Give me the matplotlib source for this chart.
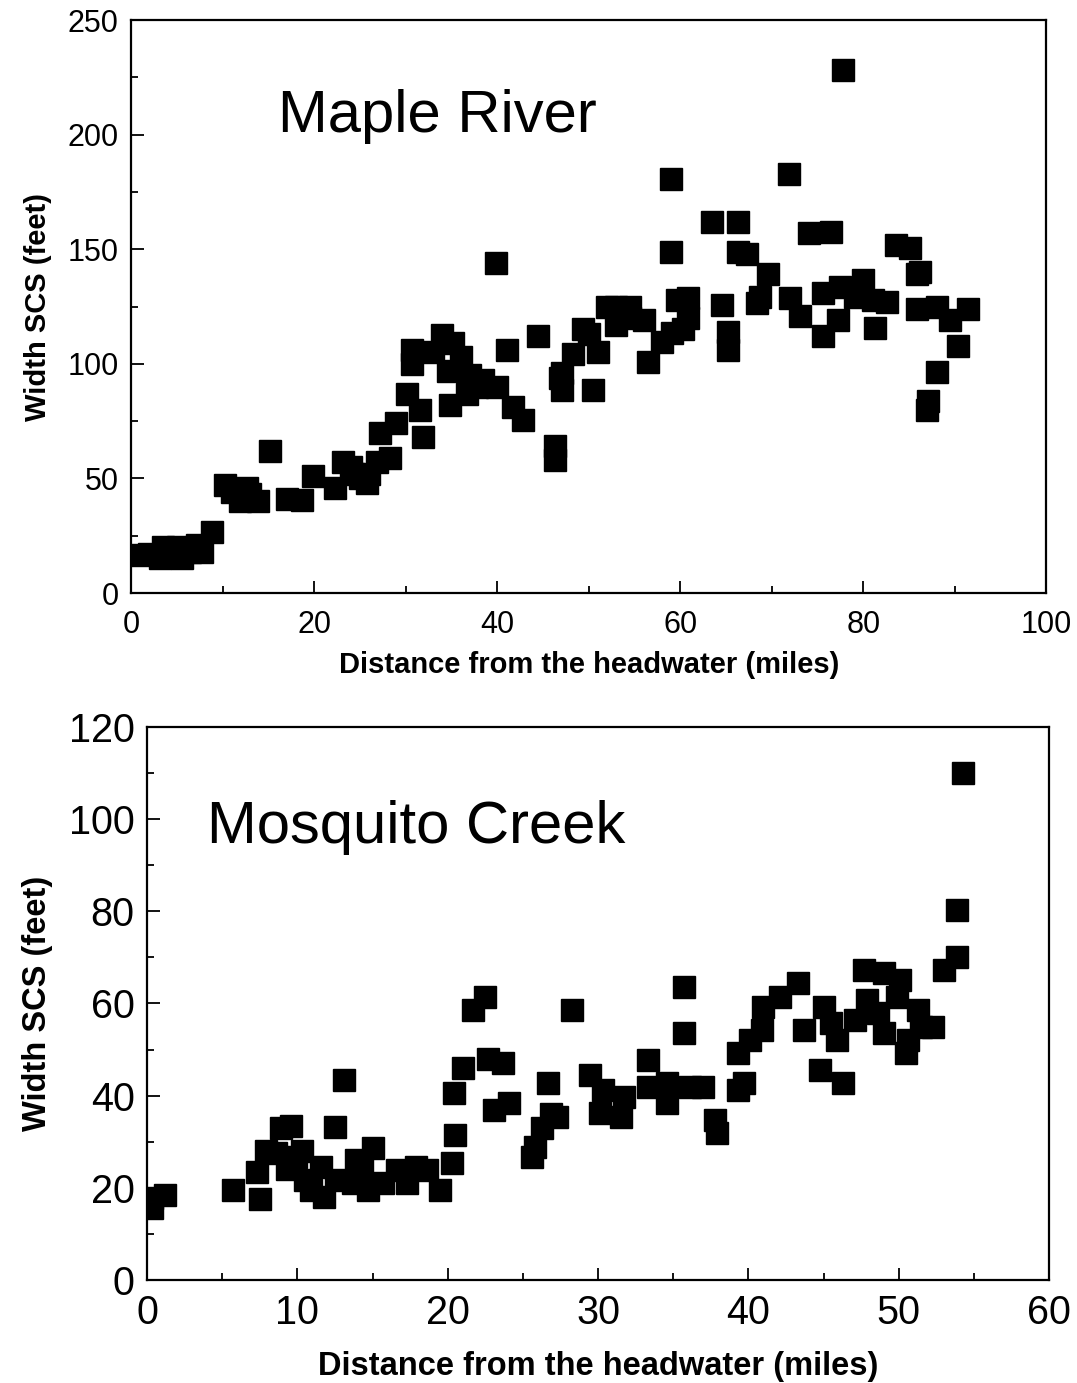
import matplotlib.pyplot as plt
from matplotlib.ticker import MultipleLocator

plt.rcParams['font.family'] = ['Liberation Sans', 'DejaVu Sans']

# Maple River: distance (miles) and width SCS (feet)
maple_dist = [0.8, 2.0, 3.2, 3.5, 4.5, 5.1, 5.6, 6.5, 7.2, 7.8, 8.8,
              10.3, 11.0, 11.9, 12.7, 13.0, 13.9, 15.2, 17.0, 18.7, 19.9,
              22.3, 23.2, 24.0, 24.3, 25.0, 25.8, 26.0, 26.9, 27.2, 28.3, 29.0,
              30.2, 31.6, 31.9, 30.7, 30.7, 33.0, 34.0, 35.2, 36.0, 34.6, 34.9,
              36.7, 37.0, 37.8, 38.5, 40.0, 39.9, 41.1, 41.7, 42.8, 44.5,
              46.3, 46.3, 46.9, 47.1, 47.1, 48.3, 49.4, 50.0, 50.5, 51.0, 52.0,
              53.0, 53.0, 54.5, 54.5, 56.0, 56.5, 58.0, 59.1, 59.0, 59.0, 59.7,
              60.3, 60.8, 60.8, 63.5, 66.3, 66.3, 67.3, 64.6, 65.2, 65.2, 68.4,
              68.7, 69.6, 71.9, 72.0, 73.1, 74.1, 76.5, 75.6, 75.6, 77.2, 77.5,
              77.8, 79.1, 80.0, 81.1, 81.3, 82.6, 83.6, 85.1, 85.9, 86.2, 85.9,
              88.1, 87.1, 87.0, 88.0, 89.5, 90.3, 91.4]
maple_width = [16.6, 17.0, 15.5, 20.0, 19.0, 20.0, 15.5, 18.0, 21.0, 18.0, 26.6,
               47.0, 44.0, 40.0, 46.0, 43.0, 40.0, 62.0, 41.0, 40.6, 51.0,
               46.0, 57.0, 55.0, 52.0, 50.0, 48.0, 52.0, 57.0, 70.0, 59.0, 74.0,
               87.0, 80.0, 68.0, 106.0, 100.0, 105.0, 112.6, 109.0, 103.0, 97.0, 82.0,
               87.0, 95.0, 90.0, 93.0, 90.0, 144.0, 106.0, 81.0, 75.5, 112.0,
               64.0, 58.0, 94.0, 96.0, 88.6, 104.5, 115.0, 113.0, 88.6, 105.0, 125.0,
               125.0, 117.0, 125.0, 120.0, 119.0, 101.0, 109.5, 113.4, 180.6, 149.0, 128.0,
               115.0, 128.7, 120.0, 162.0, 162.0, 149.0, 148.0, 125.6, 114.0, 106.0, 126.5,
               129.0, 139.0, 183.0, 128.7, 121.0, 157.0, 157.5, 131.0, 112.0, 119.0, 133.5,
               228.0, 129.0, 136.5, 128.0, 115.6, 127.0, 152.0, 150.5, 139.0, 140.0, 124.0,
               125.0, 84.0, 80.0, 96.5, 119.0, 108.0, 124.0]

# Mosquito Creek
mosq_dist = [0.3, 0.3, 1.2, 5.7, 7.5, 7.3, 7.9, 8.6, 8.9, 9.6, 9.3, 9.9, 10.3,
             10.5, 10.9, 11.6, 11.8, 12.5, 13.1, 12.6, 13.7, 13.9, 14.3, 14.7,
             15.0, 15.7, 16.6, 17.3, 17.9, 18.6, 19.5, 20.3, 20.5, 20.4, 21.0,
             21.7, 22.5, 22.7, 23.7, 23.1, 24.1, 25.6, 25.8, 26.3, 26.9, 26.7,
             27.3, 28.3, 29.5, 30.1, 30.3, 31.5, 31.7, 33.3, 33.3, 34.6, 34.6,
             35.7, 35.7, 36.1, 37.0, 37.8, 37.9, 39.3, 39.7, 39.3, 40.1, 40.9,
             41.0, 42.1, 43.3, 43.7, 44.8, 45.0, 45.5, 45.9, 46.3, 47.1, 47.7,
             47.9, 48.6, 49.0, 49.0, 49.9, 50.1, 50.5, 50.6, 51.3, 51.5, 52.3,
             53.0, 53.9, 53.9, 54.3]
mosq_width = [17.8, 15.6, 18.4, 19.5, 17.5, 23.4, 28.0, 27.5, 33.0, 33.3, 24.0, 26.7, 28.0,
              21.7, 19.5, 24.5, 18.0, 33.2, 43.4, 21.7, 21.0, 26.0, 24.5, 19.5,
              28.6, 21.0, 23.9, 21.0, 24.5, 23.9, 19.5, 25.4, 31.5, 40.5, 46.0,
              58.6, 61.4, 48.0, 47.0, 36.9, 38.4, 26.7, 28.9, 33.0, 36.0, 42.7,
              35.4, 58.6, 44.5, 36.2, 41.2, 35.4, 39.7, 47.7, 41.9, 42.7, 38.4,
              63.6, 53.6, 41.9, 41.9, 34.7, 31.9, 41.2, 42.7, 49.2, 52.0, 54.2,
              59.2, 61.4, 64.4, 54.2, 45.6, 59.2, 55.7, 52.0, 42.7, 56.4, 67.2,
              60.7, 57.9, 66.6, 53.6, 61.4, 65.0, 49.2, 52.0, 58.6, 54.9, 54.9,
              67.2, 70.0, 80.3, 110.0]

fig = plt.figure(figsize=(10.77, 13.83), dpi=100)
ax1 = fig.add_axes([0.1216, 0.5712, 0.850, 0.4143])
ax2 = fig.add_axes([0.1365, 0.0745, 0.8375, 0.3999])


def style_axes(ax, tick_size, label_size, xmaj, xmin, ymaj, ymin, xpad, xlabpad):
    ax.xaxis.set_major_locator(MultipleLocator(xmaj))
    ax.xaxis.set_minor_locator(MultipleLocator(xmin))
    ax.yaxis.set_major_locator(MultipleLocator(ymaj))
    ax.yaxis.set_minor_locator(MultipleLocator(ymin))
    ax.tick_params(which='both', direction='in', width=1.3, labelsize=tick_size)
    ax.tick_params(which='major', length=9, pad=9)
    ax.tick_params(which='minor', length=5)
    ax.tick_params(axis='x', which='major', pad=xpad)
    for sp in ax.spines.values():
        sp.set_linewidth(1.6)
    ax.set_xlabel('Distance from the headwater (miles)', fontsize=label_size,
                  fontweight='bold', labelpad=xlabpad)
    ax.set_ylabel('Width SCS (feet)', fontsize=label_size, fontweight='bold',
                  labelpad=11)


ax1.plot(maple_dist, maple_width, 's', color='black', markersize=16.5,
         markeredgecolor='black')
ax1.set_xlim(0, 100)
ax1.set_ylim(0, 250)
style_axes(ax1, 22, 21, 20, 10, 50, 25, 12, 8)
ax1.text(0.161, 0.805, 'Maple River', transform=ax1.transAxes, fontsize=43,
         va='baseline', ha='left')

ax2.plot(mosq_dist, mosq_width, 's', color='black', markersize=16.5,
         markeredgecolor='black')
ax2.set_xlim(0, 60)
ax2.set_ylim(0, 120)
style_axes(ax2, 28.5, 23.5, 10, 5, 20, 10, 10, 14)
ax2.text(0.066, 0.79, 'Mosquito Creek', transform=ax2.transAxes, fontsize=43,
         va='baseline', ha='left')

fig.savefig('out.png', dpi=100)
